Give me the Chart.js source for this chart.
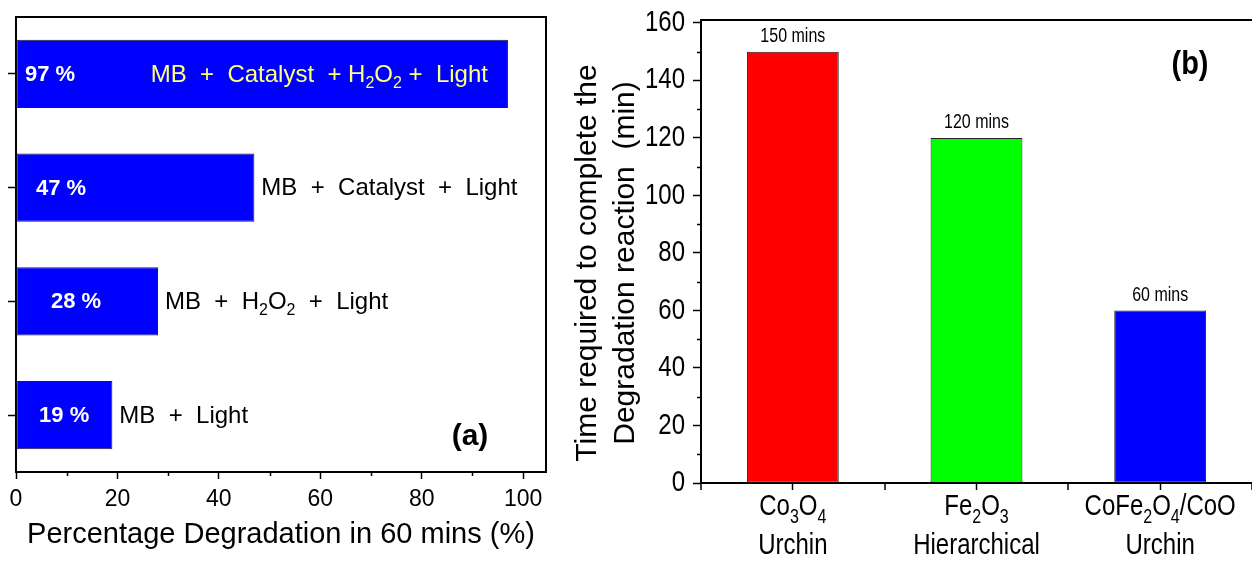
<!DOCTYPE html>
<html>
<head>
<meta charset="utf-8">
<script src="https://cdn.jsdelivr.net/npm/chart.js@4"></script>
<style>
  body { margin: 0; background: #fff; width: 1252px; height: 561px; overflow: hidden; position: relative; }
  #boxA { position: absolute; left: 0; top: 0; width: 560px; height: 561px; }
  #boxB { position: absolute; left: 560px; top: 0; width: 692px; height: 561px; }
</style>
</head>
<body>
<div id="boxA"><canvas id="chartA"></canvas></div>
<div id="boxB"><canvas id="chartB"></canvas></div>
<script>
// panel (a): degradation in 60 mins
const conditions = ['MB  +  Catalyst  + H_2O_2 +  Light', 'MB  +  Catalyst  +  Light', 'MB  +  H_2O_2  +  Light', 'MB  +  Light'];
const degradation = [97, 47, 28, 19];

// panel (b): time to complete the reaction
const materials = ['Co_3O_4', 'Fe_2O_3', 'CoFe_2O_4/CoO'];
const morphology = ['Urchin', 'Hierarchical', 'Urchin'];
const times = [150, 120, 60];
const timeColors = ['#ff0000', '#00ff00', '#0000ff'];

const SANS = '"Liberation Sans", Arial, sans-serif';
const STRETCH_B = 1.22; // panel (b) text looks vertically stretched in the original

Chart.defaults.animation = false;
Chart.defaults.devicePixelRatio = 1;

// "_2" in a label means a subscript 2
function splitSub(str) {
  const out = [];
  let buf = '';
  for (let i = 0; i < str.length; i++) {
    if (str[i] === '_' && i + 1 < str.length) {
      if (buf) out.push([buf, false]);
      buf = '';
      out.push([str[i + 1], true]);
      i++;
    } else {
      buf += str[i];
    }
  }
  if (buf) out.push([buf, false]);
  return out;
}

function drawRich(ctx, str, x, y, size, weight, align, color, sy) {
  const parts = splitSub(String(str));
  const main = weight + ' ' + size + 'px ' + SANS;
  const sub = weight + ' ' + Math.round(size * 0.65) + 'px ' + SANS;
  let w = 0;
  parts.forEach(([t, s]) => { ctx.font = s ? sub : main; w += ctx.measureText(t).width; });
  let cx = align === 'center' ? x - w / 2 : align === 'right' ? x - w : x;
  ctx.save();
  ctx.translate(0, y);
  ctx.scale(1, sy || 1);
  ctx.fillStyle = color;
  ctx.textBaseline = 'middle';
  ctx.textAlign = 'left';
  parts.forEach(([t, s]) => {
    ctx.font = s ? sub : main;
    ctx.fillText(t, cx, s ? size * 0.35 : 0);
    cx += ctx.measureText(t).width;
  });
  ctx.restore();
}

// major ticks come from Chart.js, minor ones (odd tens) are drawn shorter here
const majorOnly = c => (c.tick && c.tick.value % 20 === 0 ? '#000' : 'rgba(0,0,0,0)');

const decorA = {
  id: 'decorA',
  afterDraw(chart) {
    const { ctx, chartArea: a, scales: { x, y } } = chart;
    ctx.save();
    ctx.strokeStyle = '#000';
    ctx.lineWidth = 2;
    ctx.beginPath();
    ctx.moveTo(a.left, a.top);
    ctx.lineTo(a.right, a.top);
    ctx.lineTo(a.right, a.bottom);
    ctx.stroke();

    ctx.lineWidth = 1.5;
    x.ticks.forEach(t => {
      if (t.value % 20 !== 0) {
        const px = Math.round(x.getPixelForValue(t.value)) + 0.5;
        ctx.beginPath();
        ctx.moveTo(px, a.bottom);
        ctx.lineTo(px, a.bottom + 4);
        ctx.stroke();
      }
    });

    degradation.forEach((v, i) => {
      const cy = y.getPixelForValue(i) + 1;
      const end = x.getPixelForValue(v);
      const w = end - a.left;
      const off = w < 200 ? Math.min(w / 2, 60) : (w > 400 ? 34 : 45);
      drawRich(ctx, v + ' %', a.left + off, cy, 22, 'bold', 'center', '#fff');
      if (v > 60) {
        drawRich(ctx, conditions[i], end - 20, cy, 24, 'normal', 'right', '#ffff80');
      } else {
        drawRich(ctx, conditions[i], end + 7, cy, 24, 'normal', 'left', '#000');
      }
    });

    drawRich(ctx, '(a)', a.right - 76, a.bottom - 35, 30, 'bold', 'center', '#000');
    ctx.restore();
  }
};

const decorB = {
  id: 'decorB',
  afterDraw(chart) {
    const { ctx, chartArea: a, scales: { x, y } } = chart;
    ctx.save();
    ctx.strokeStyle = '#000';
    ctx.lineWidth = 2;
    ctx.beginPath();
    ctx.moveTo(a.left, a.top);
    ctx.lineTo(a.right, a.top);
    ctx.stroke();

    // minor ticks between the categories
    ctx.lineWidth = 1.5;
    for (let i = 0; i <= times.length; i++) {
      const px = Math.round(x.getPixelForValue(i - 0.5));
      ctx.beginPath();
      ctx.moveTo(px, a.bottom);
      ctx.lineTo(px, a.bottom + 7);
      ctx.stroke();
    }

    // y minor ticks and tick labels (every 20)
    y.ticks.forEach(t => {
      const py = y.getPixelForValue(t.value);
      if (t.value % 20 === 0) {
        drawRich(ctx, t.value, a.left - 16, py, 24, 'normal', 'right', '#000', STRETCH_B);
      } else {
        ctx.beginPath();
        ctx.moveTo(a.left, Math.round(py) + 0.5);
        ctx.lineTo(a.left - 4, Math.round(py) + 0.5);
        ctx.stroke();
      }
    });

    times.forEach((v, i) => {
      const cx = x.getPixelForValue(i);
      drawRich(ctx, v + ' mins', cx, y.getPixelForValue(v) - 15, 16, 'normal', 'center', '#000', STRETCH_B);
      drawRich(ctx, materials[i], cx, a.bottom + 24, 24, 'normal', 'center', '#000', STRETCH_B);
      drawRich(ctx, morphology[i], cx, a.bottom + 63, 24, 'normal', 'center', '#000', STRETCH_B);
    });

    // two-line y title
    ctx.save();
    ctx.translate(28, 263);
    ctx.rotate(-Math.PI / 2);
    drawRich(ctx, 'Time required to complete the', 0, 0, 30, 'normal', 'center', '#000');
    drawRich(ctx, 'Degradation reaction  (min)', 0, 38, 30, 'normal', 'center', '#000');
    ctx.restore();

    drawRich(ctx, '(b)', 630, 65, 29, 'bold', 'center', '#000', 1.15);
    ctx.restore();
  }
};

new Chart(document.getElementById('chartA'), {
  type: 'bar',
  data: {
    labels: conditions.map(c => c.replace(/_/g, '')),
    datasets: [{
      data: degradation,
      backgroundColor: '#0000ff',
      borderColor: '#222',
      borderWidth: 1,
      borderSkipped: false,
      barPercentage: 0.6,
      categoryPercentage: 1
    }]
  },
  options: {
    indexAxis: 'y',
    responsive: true,
    maintainAspectRatio: false,
    layout: { padding: { top: 17, right: 14, left: 0, bottom: 0 } },
    plugins: { legend: { display: false }, tooltip: { enabled: false } },
    scales: {
      x: {
        min: 0,
        max: 104.5,
        ticks: {
          stepSize: 10,
          includeBounds: false,
          autoSkip: false,
          maxRotation: 0,
          padding: 7,
          color: '#000',
          font: { family: SANS, size: 23 },
          callback: v => (v % 20 === 0 ? v : '')
        },
        grid: { drawOnChartArea: false, tickLength: 7, tickColor: majorOnly, tickWidth: 1.5 },
        border: { color: '#000', width: 2 },
        title: {
          display: true,
          text: 'Percentage Degradation in 60 mins (%)',
          color: '#000',
          font: { family: SANS, size: 29, lineHeight: 1 },
          padding: { top: 0, bottom: 12 }
        },
        afterFit(s) { s.height = 89; }
      },
      y: {
        ticks: { callback: () => '' },
        grid: { offset: false, drawOnChartArea: false, tickLength: 8, tickColor: '#000', tickWidth: 1.5 },
        border: { color: '#000', width: 2 },
        afterFit(s) { s.width = 16; }
      }
    }
  },
  plugins: [decorA]
});

new Chart(document.getElementById('chartB'), {
  type: 'bar',
  data: {
    labels: materials.map((m, i) => m.replace(/_/g, '') + ' ' + morphology[i]),
    datasets: [{
      data: times,
      backgroundColor: timeColors,
      borderColor: '#222',
      borderWidth: 1,
      borderSkipped: false,
      barPercentage: 0.5,
      categoryPercentage: 1
    }]
  },
  options: {
    responsive: true,
    maintainAspectRatio: false,
    layout: { padding: { top: 20, right: 0, left: 0, bottom: 0 } },
    plugins: { legend: { display: false }, tooltip: { enabled: false } },
    scales: {
      x: {
        ticks: { callback: () => '', font: { size: 8 } },
        grid: { offset: false, drawOnChartArea: false, tickLength: 7, tickColor: '#000', tickWidth: 1.5 },
        border: { color: '#000', width: 2 },
        afterFit(s) { s.height = 78; }
      },
      y: {
        min: 0,
        max: 161,
        ticks: {
          stepSize: 10,
          includeBounds: false,
          autoSkip: false,
          font: { size: 8 },
          callback: () => ''
        },
        grid: { drawOnChartArea: false, tickLength: 8, tickColor: majorOnly, tickWidth: 1.5 },
        border: { color: '#000', width: 2 },
        afterFit(s) { s.width = 141; }
      }
    }
  },
  plugins: [decorB]
});
</script>
</body>
</html>
